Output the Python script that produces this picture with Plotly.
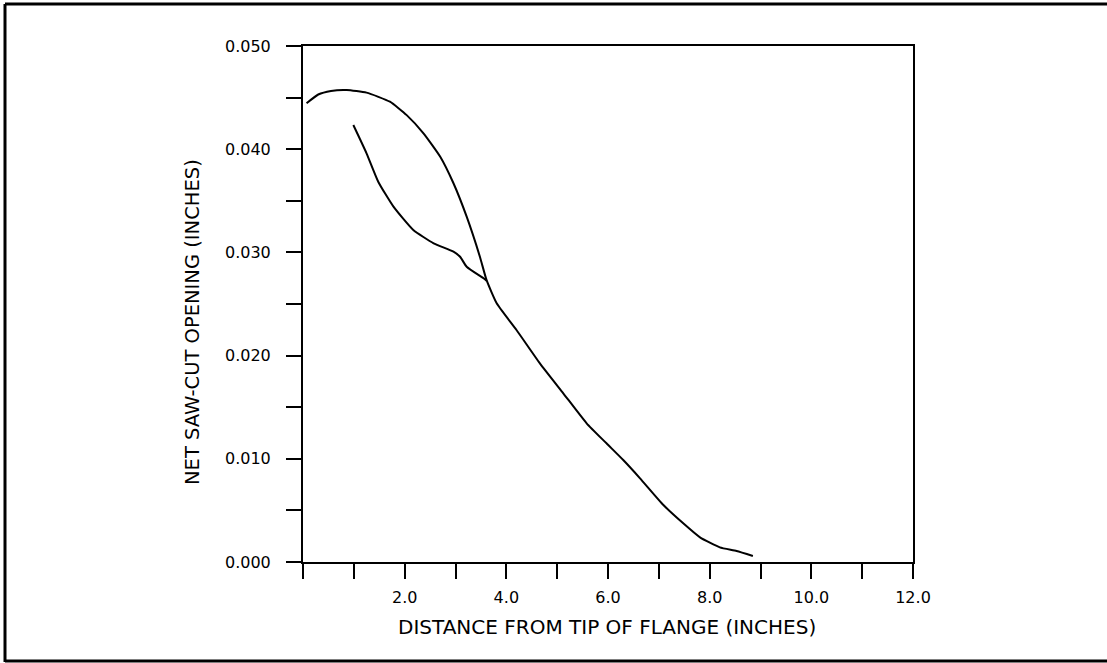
import plotly.graph_objects as go

# Upper curve: opening vs. distance, runs all the way down the flange
upper_x = [0.07, 0.30, 0.55, 0.86, 1.25, 1.71, 2.04, 2.37, 2.70, 2.96, 3.22, 3.48, 3.61,
           3.81, 4.20, 4.66, 5.12, 5.58, 5.97, 6.30, 6.63, 7.09, 7.48, 7.81, 8.20, 8.53, 8.85]
upper_y = [0.04445, 0.04530, 0.04565, 0.04574, 0.04548, 0.04460, 0.04330, 0.04154, 0.03927,
           0.03670, 0.03346, 0.02958, 0.02733,
           0.02507, 0.02248, 0.01925, 0.01635, 0.01344, 0.01150, 0.00988, 0.00811, 0.00552,
           0.00375, 0.00239, 0.00142, 0.00107, 0.00058]

# Lower curve: starts near 1 in. and joins the upper curve
lower_x = [0.99, 1.25, 1.48, 1.78, 2.17, 2.57, 2.96, 3.09, 3.22, 3.55, 3.61]
lower_y = [0.04234, 0.03960, 0.03685, 0.03443, 0.03217, 0.03088, 0.03007, 0.02958,
           0.02861, 0.02749, 0.02726]

x_tick_vals = [float(v) for v in range(0, 13)]
x_tick_text = ["", "", "2.0", "", "4.0", "", "6.0", "", "8.0", "", "10.0", "", "12.0"]
y_tick_vals = [0.000, 0.005, 0.010, 0.015, 0.020, 0.025, 0.030, 0.035, 0.040, 0.045, 0.050]
y_tick_text = ["0.000", "", "0.010", "", "0.020", "", "0.030", "", "0.040", "", "0.050"]

W, H = 1107, 663
L, R, T, B = 303, 913, 46, 562
FONT = "DejaVu Sans, sans-serif"


def px(x):
    return (x - L) / (R - L)


def py(y):
    return (B - y) / (B - T)


fig = go.Figure()
for xs, ys in [(upper_x, upper_y), (lower_x, lower_y)]:
    fig.add_trace(go.Scatter(x=xs, y=ys, mode="lines", line=dict(color="black", width=2,
                                                                  shape="spline", smoothing=0.5),
                             showlegend=False, hoverinfo="skip"))

axis_common = dict(showline=True, linecolor="black", linewidth=2, mirror=True,
                   showgrid=False, zeroline=False, ticks="outside", ticklen=15,
                   tickwidth=1.5, tickcolor="black",
                   tickfont=dict(family=FONT, size=16, color="black"))

fig.update_xaxes(range=[0, 12], tickmode="array", tickvals=x_tick_vals,
                 ticktext=x_tick_text, ticklabelstandoff=5, **axis_common)
fig.update_yaxes(range=[0, 0.05], tickmode="array", tickvals=y_tick_vals,
                 ticktext=y_tick_text, ticklabelstandoff=12, **axis_common)

fig.add_annotation(text="DISTANCE FROM TIP OF FLANGE (INCHES)", xref="paper", yref="paper",
                   x=px(607), y=py(627), showarrow=False, xanchor="center", yanchor="middle",
                   font=dict(family=FONT, size=20, color="black"))
fig.add_annotation(text="NET SAW-CUT OPENING (INCHES)", xref="paper", yref="paper",
                   x=px(192), y=py(322), showarrow=False, textangle=-90,
                   xanchor="center", yanchor="middle",
                   font=dict(family=FONT, size=19.5, color="black"))

# outer frame around the figure
frame = dict(color="black", width=3)
fig.add_shape(type="line", xref="paper", yref="paper", x0=px(5), x1=px(5),
              y0=py(4), y1=py(662), line=frame)
fig.add_shape(type="line", xref="paper", yref="paper", x0=px(5), x1=px(1110),
              y0=py(4), y1=py(4), line=frame)
fig.add_shape(type="line", xref="paper", yref="paper", x0=px(5), x1=px(1110),
              y0=py(661), y1=py(661), line=frame)

fig.update_layout(width=W, height=H, margin=dict(l=L, r=W - R, t=T, b=H - B),
                  plot_bgcolor="white", paper_bgcolor="white")

fig.write_html("out.html")
